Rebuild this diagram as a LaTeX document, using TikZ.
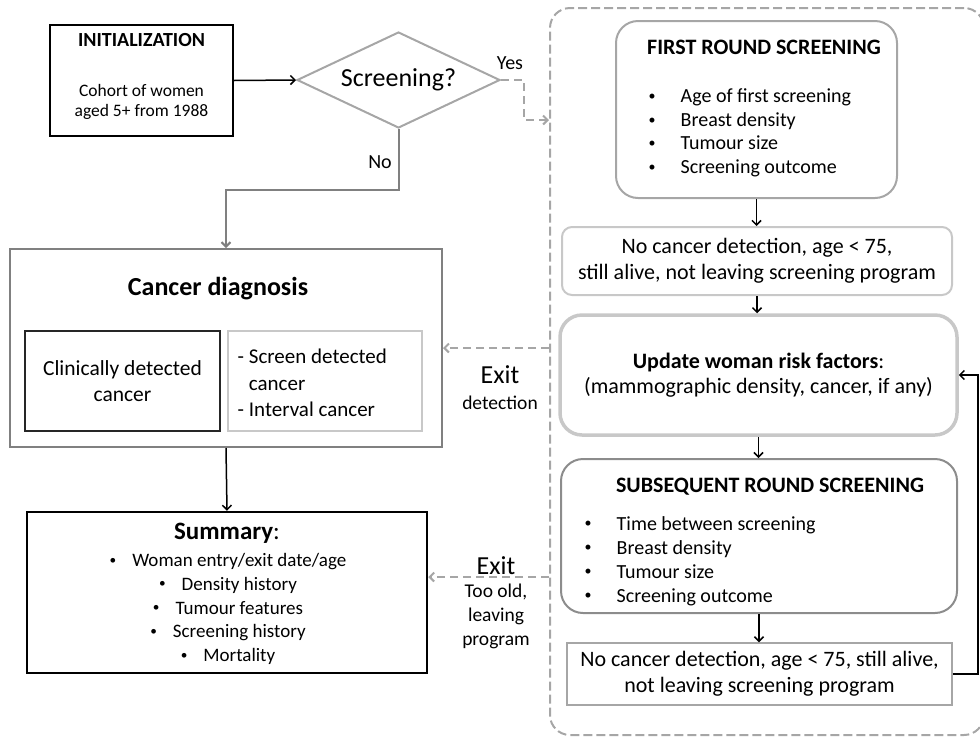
\documentclass[tikz,border=0pt]{standalone}
\usepackage{fontspec}
\setmainfont{Carlito}
\usepackage{tikz}
\usetikzlibrary{arrows.meta,shapes.geometric}
\definecolor{framegray}{RGB}{166,166,166}
\definecolor{boxgray}{RGB}{128,128,128}
\definecolor{palegray}{RGB}{200,200,200}
\definecolor{midgray}{RGB}{140,140,140}
\newcommand{\smalldot}{\raisebox{0.12em}{\scalebox{0.7}{\textbullet}}}
\tikzset{every picture/.style={line width=1.4pt}}

\begin{document}
\begin{tikzpicture}[x=1pt,y=-1pt,>={Straight Barb[length=4.5pt,width=9pt]},
 every node/.style={inner sep=0pt,font=\fontsize{20}{24}\selectfont},
 flow/.style={->,line width=1.5pt},
 exitflow/.style={->,draw=framegray,line width=2pt,dash pattern=on 8pt off 5pt}]
 \useasboundingbox (0,0) rectangle (980,740);

 % The screening rounds sit in one dashed frame, cut by the right edge.
 \node[draw=framegray,line width=2pt,dash pattern=on 9pt off 4pt,
  rounded corners=20pt,minimum width=434pt,minimum height=727pt]
  (rounds) at (767,371.5) {};

 % Start of the cohort and the screening question.
 \node[draw,line width=1.5pt,minimum width=183pt,minimum height=111pt]
  (init) at (141.5,80.5) {};
 \node[font=\fontsize{20}{24}\selectfont\bfseries] (inittitle) at (141.5,40) {INITIALIZATION};
 \node[align=center,font=\fontsize{17.5}{20}\selectfont]
  (inittext) at (141.5,102) {Cohort of women\\aged 5+ from 1988};
 \node[draw=framegray,line width=2pt,diamond,aspect=2,minimum width=203pt,
  minimum height=96pt,font=\fontsize{26}{30}\selectfont]
  (screen) at (398.5,80) {Screening?};
 \node (yes) at (510,63) {Yes};
 \node (no) at (380,162) {No};
 \draw[flow] (init.east) -- (screen.west);
 \draw[exitflow] (screen.east) -- ++(23,0) |- (rounds.west |- 0,120);

 % Diagnosis, reached directly or by leaving the screening rounds.
 \node[draw=boxgray,line width=2pt,minimum width=432pt,minimum height=198pt]
  (diag) at (226,348) {};
 \node[font=\fontsize{26}{30}\selectfont\bfseries] (diagtitle) at (218,289) {Cancer diagnosis};
 \node[draw=black!85,line width=1.4pt,minimum width=195pt,minimum height=100pt,
  align=center,font=\fontsize{21.5}{26}\selectfont]
  (clin) at (122.5,381) {Clinically detected\\cancer};
 \node[draw=palegray,line width=1.2pt,minimum width=194pt,minimum height=100pt]
  (scr) at (325,381) {};
 \node[anchor=west,align=left,font=\fontsize{21}{26.5}\selectfont]
  (scrtext) at (237,383) {- Screen detected\\\phantom{- }cancer\\- Interval cancer};
 \draw[->,draw=boxgray,line width=2pt] (screen.south) -- ++(0,61) -| (diag.north);
 \draw[exitflow] (rounds.west |- diag.east) -- (diag.east);
 \node[font=\fontsize{26}{30}\selectfont] (exitone) at (500,375) {Exit};
 \node[font=\fontsize{19.5}{24}\selectfont] (exitonewhy) at (500,403) {detection};

 % Summary of each woman.
 \node[draw,line width=2.5pt,minimum width=400pt,minimum height=161pt]
  (summ) at (227,592.5) {};
 \node[font=\fontsize{25}{30}\selectfont] (summtitle) at (227,533) {\textbf{Summary}:};
 \node[align=center,font=\fontsize{19}{23.8}\selectfont] (summlist) at (228,609)
  {\smalldot\hspace{16pt}Woman entry/exit date/age\\
   \smalldot\hspace{16pt}Density history\\
   \smalldot\hspace{16pt}Tumour features\\
   \smalldot\hspace{16pt}Screening history\\
   \smalldot\hspace{16pt}Mortality};
 \draw[flow] (diag.south) -- (summ.north);
 \draw[exitflow] (rounds.west |- 0,577) -- (summ.east |- 0,577);
 \node[font=\fontsize{26}{30}\selectfont] (exittwo) at (496,566) {Exit};
 \node[align=center,font=\fontsize{19.5}{24}\selectfont]
  (exittwowhy) at (496,616) {Too old,\\leaving\\program};

 % First round, then the loop over later rounds.
 \node[draw=framegray,line width=2pt,rounded corners=22pt,minimum width=281pt,
  minimum height=177pt] (first) at (756.5,109.5) {};
 \node[font=\fontsize{22}{26}\selectfont\bfseries] (firsttitle) at (764,47) {FIRST ROUND SCREENING};
 \node[anchor=west,align=left,font=\fontsize{20}{23.5}\selectfont] (firstlist) at (648,133)
  {\makebox[32pt][l]{\smalldot}Age of first screening\\
   \makebox[32pt][l]{\smalldot}Breast density\\
   \makebox[32pt][l]{\smalldot}Tumour size\\
   \makebox[32pt][l]{\smalldot}Screening outcome};
 \node[draw=palegray,line width=2pt,rounded corners=10pt,minimum width=390pt,
  minimum height=68pt,align=center,font=\fontsize{22}{26}\selectfont]
  (aliveone) at (757,261) {No cancer detection, age < 75,\\still alive, not leaving screening program};
 \node[draw=palegray,line width=3.5pt,rounded corners=22pt,minimum width=397pt,
  minimum height=120pt,align=center,font=\fontsize{22}{25}\selectfont]
  (update) at (758.5,375) {\textbf{Update woman risk factors}:\\(mammographic density, cancer, if any)};
 \node[draw=midgray,line width=2pt,rounded corners=22pt,minimum width=396pt,
  minimum height=154pt] (later) at (759,536) {};
 \node[font=\fontsize{22}{26}\selectfont\bfseries] (latertitle) at (770,487) {SUBSEQUENT ROUND SCREENING};
 \node[anchor=west,align=left,font=\fontsize{20}{24}\selectfont] (laterlist) at (584,561)
  {\makebox[32pt][l]{\smalldot}Time between screening\\
   \makebox[32pt][l]{\smalldot}Breast density\\
   \makebox[32pt][l]{\smalldot}Tumour size\\
   \makebox[32pt][l]{\smalldot}Screening outcome};
 \node[draw=framegray,line width=1.5pt,minimum width=385pt,minimum height=62pt,
  align=center,font=\fontsize{22}{26}\selectfont]
  (alivetwo) at (759.5,674) {No cancer detection, age < 75, still alive,\\not leaving screening program};
 \draw[flow] (first.south) -- (first.south |- aliveone.north);
 \draw[flow] (aliveone.south) -- (aliveone.south |- update.north);
 \draw[flow] (update.south) -- (update.south |- later.north);
 \draw[flow] (later.south) -- (later.south |- alivetwo.north);
 \draw[flow] (alivetwo.east) -- ++(25,0) |- (update.east);
\end{tikzpicture}
\end{document}
